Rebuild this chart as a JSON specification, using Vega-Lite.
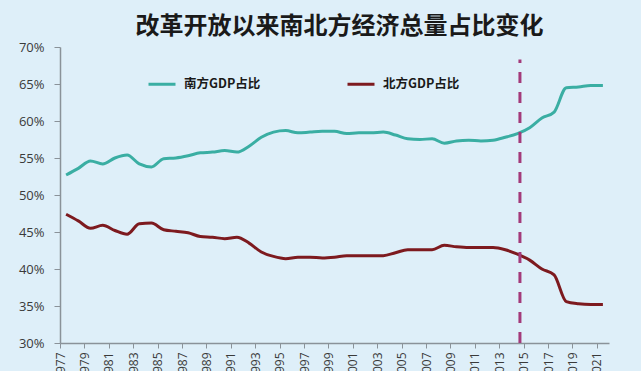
{
  "$schema": "https://vega.github.io/schema/vega-lite/v6.json",
  "width": 549,
  "height": 296,
  "autosize": {"type": "none"},
  "padding": {"left": 60, "top": 47, "right": 32, "bottom": 28},
  "background": "#deeff9",
  "title": {"text": "改革开放以来南北方经济总量占比变化", "anchor": "middle", "frame": "group", "dx": 5, "fontSize": 24, "font": "Noto Sans CJK SC", "fontWeight": "bold", "color": "#1a1a1a", "offset": 2},
  "config": {"view": {"stroke": null}, "font": "Noto Sans CJK SC"},
  "datasets": {
    "gdp": [
      {"year": 1977, "region": "南方GDP占比", "share": 52.7},
      {"year": 1978, "region": "南方GDP占比", "share": 53.6},
      {"year": 1979, "region": "南方GDP占比", "share": 54.6},
      {"year": 1980, "region": "南方GDP占比", "share": 54.2},
      {"year": 1981, "region": "南方GDP占比", "share": 55.0},
      {"year": 1982, "region": "南方GDP占比", "share": 55.4},
      {"year": 1983, "region": "南方GDP占比", "share": 54.2},
      {"year": 1984, "region": "南方GDP占比", "share": 53.8},
      {"year": 1985, "region": "南方GDP占比", "share": 54.9},
      {"year": 1986, "region": "南方GDP占比", "share": 55.0},
      {"year": 1987, "region": "南方GDP占比", "share": 55.3},
      {"year": 1988, "region": "南方GDP占比", "share": 55.7},
      {"year": 1989, "region": "南方GDP占比", "share": 55.8},
      {"year": 1990, "region": "南方GDP占比", "share": 56.0},
      {"year": 1991, "region": "南方GDP占比", "share": 55.8},
      {"year": 1992, "region": "南方GDP占比", "share": 56.6},
      {"year": 1993, "region": "南方GDP占比", "share": 57.8},
      {"year": 1994, "region": "南方GDP占比", "share": 58.5},
      {"year": 1995, "region": "南方GDP占比", "share": 58.7},
      {"year": 1996, "region": "南方GDP占比", "share": 58.4},
      {"year": 1997, "region": "南方GDP占比", "share": 58.5},
      {"year": 1998, "region": "南方GDP占比", "share": 58.6},
      {"year": 1999, "region": "南方GDP占比", "share": 58.6},
      {"year": 2000, "region": "南方GDP占比", "share": 58.3},
      {"year": 2001, "region": "南方GDP占比", "share": 58.4},
      {"year": 2002, "region": "南方GDP占比", "share": 58.4},
      {"year": 2003, "region": "南方GDP占比", "share": 58.5},
      {"year": 2004, "region": "南方GDP占比", "share": 58.1},
      {"year": 2005, "region": "南方GDP占比", "share": 57.6},
      {"year": 2006, "region": "南方GDP占比", "share": 57.5},
      {"year": 2007, "region": "南方GDP占比", "share": 57.6},
      {"year": 2008, "region": "南方GDP占比", "share": 57.0},
      {"year": 2009, "region": "南方GDP占比", "share": 57.3},
      {"year": 2010, "region": "南方GDP占比", "share": 57.4},
      {"year": 2011, "region": "南方GDP占比", "share": 57.3},
      {"year": 2012, "region": "南方GDP占比", "share": 57.4},
      {"year": 2013, "region": "南方GDP占比", "share": 57.8},
      {"year": 2014, "region": "南方GDP占比", "share": 58.3},
      {"year": 2015, "region": "南方GDP占比", "share": 59.1},
      {"year": 2016, "region": "南方GDP占比", "share": 60.4},
      {"year": 2017, "region": "南方GDP占比", "share": 61.2},
      {"year": 2018, "region": "南方GDP占比", "share": 64.5},
      {"year": 2019, "region": "南方GDP占比", "share": 64.6},
      {"year": 2020, "region": "南方GDP占比", "share": 64.8},
      {"year": 2021, "region": "南方GDP占比", "share": 64.8},
      {"year": 1977, "region": "北方GDP占比", "share": 47.4},
      {"year": 1978, "region": "北方GDP占比", "share": 46.5},
      {"year": 1979, "region": "北方GDP占比", "share": 45.5},
      {"year": 1980, "region": "北方GDP占比", "share": 45.9},
      {"year": 1981, "region": "北方GDP占比", "share": 45.2},
      {"year": 1982, "region": "北方GDP占比", "share": 44.7},
      {"year": 1983, "region": "北方GDP占比", "share": 46.1},
      {"year": 1984, "region": "北方GDP占比", "share": 46.2},
      {"year": 1985, "region": "北方GDP占比", "share": 45.3},
      {"year": 1986, "region": "北方GDP占比", "share": 45.1},
      {"year": 1987, "region": "北方GDP占比", "share": 44.9},
      {"year": 1988, "region": "北方GDP占比", "share": 44.4},
      {"year": 1989, "region": "北方GDP占比", "share": 44.3},
      {"year": 1990, "region": "北方GDP占比", "share": 44.1},
      {"year": 1991, "region": "北方GDP占比", "share": 44.3},
      {"year": 1992, "region": "北方GDP占比", "share": 43.5},
      {"year": 1993, "region": "北方GDP占比", "share": 42.3},
      {"year": 1994, "region": "北方GDP占比", "share": 41.7},
      {"year": 1995, "region": "北方GDP占比", "share": 41.4},
      {"year": 1996, "region": "北方GDP占比", "share": 41.6},
      {"year": 1997, "region": "北方GDP占比", "share": 41.6},
      {"year": 1998, "region": "北方GDP占比", "share": 41.5},
      {"year": 1999, "region": "北方GDP占比", "share": 41.6},
      {"year": 2000, "region": "北方GDP占比", "share": 41.8},
      {"year": 2001, "region": "北方GDP占比", "share": 41.8},
      {"year": 2002, "region": "北方GDP占比", "share": 41.8},
      {"year": 2003, "region": "北方GDP占比", "share": 41.8},
      {"year": 2004, "region": "北方GDP占比", "share": 42.2},
      {"year": 2005, "region": "北方GDP占比", "share": 42.6},
      {"year": 2006, "region": "北方GDP占比", "share": 42.6},
      {"year": 2007, "region": "北方GDP占比", "share": 42.6},
      {"year": 2008, "region": "北方GDP占比", "share": 43.2},
      {"year": 2009, "region": "北方GDP占比", "share": 43.0},
      {"year": 2010, "region": "北方GDP占比", "share": 42.9},
      {"year": 2011, "region": "北方GDP占比", "share": 42.9},
      {"year": 2012, "region": "北方GDP占比", "share": 42.9},
      {"year": 2013, "region": "北方GDP占比", "share": 42.6},
      {"year": 2014, "region": "北方GDP占比", "share": 42.0},
      {"year": 2015, "region": "北方GDP占比", "share": 41.2},
      {"year": 2016, "region": "北方GDP占比", "share": 40.0},
      {"year": 2017, "region": "北方GDP占比", "share": 39.2},
      {"year": 2018, "region": "北方GDP占比", "share": 35.6},
      {"year": 2019, "region": "北方GDP占比", "share": 35.3},
      {"year": 2020, "region": "北方GDP占比", "share": 35.2},
      {"year": 2021, "region": "北方GDP占比", "share": 35.2}
    ],
    "marker": [
      {"year": 2014.2, "lo": 30, "hi": 68.3}
    ]
  },
  "layer": [
    {
      "data": {"name": "gdp"},
      "mark": {"type": "line", "interpolate": "monotone", "strokeWidth": 3},
      "encoding": {
        "x": {
          "field": "year", "type": "quantitative",
          "scale": {"domain": [1976.5, 2021.5], "nice": false, "zero": false},
          "axis": {
            "title": null, "grid": false, "tickCount": 60,
            "values": [1976.5, 1978.5, 1980.5, 1982.5, 1984.5, 1986.5, 1988.5, 1990.5, 1992.5, 1994.5, 1996.5, 1998.5, 2000.5, 2002.5, 2004.5, 2006.5, 2008.5, 2010.5, 2012.5, 2014.5, 2016.5, 2018.5, 2020.5],
            "labelExpr": "'' + (datum.value + 0.5)",
            "labelAngle": -90, "labelFlush": false, "labelOverlap": false, "labelDx": 3,
            "labelFontSize": 12, "labelFont": "Open Sans", "labelColor": "#3a3a3a",
            "labelPadding": 4, "tickSize": 5, "tickColor": "#8a9299", "domainColor": "#8a9299", "domainWidth": 1.5
          }
        },
        "y": {
          "field": "share", "type": "quantitative",
          "scale": {"domain": [30, 70], "nice": false, "zero": false},
          "axis": {
            "title": null, "grid": false, "tickCount": 60, "labelOverlap": false,
            "values": [30, 35, 40, 45, 50, 55, 60, 65, 70],
            "labelExpr": "datum.value + '%'",
            "labelFontSize": 13, "labelFont": "Open Sans", "labelColor": "#3a3a3a",
            "labelPadding": 10, "tickSize": 6, "tickColor": "#8a9299", "domainColor": "#8a9299", "domainWidth": 1.5
          }
        },
        "color": {
          "field": "region", "type": "nominal",
          "scale": {"domain": ["南方GDP占比", "北方GDP占比"], "range": ["#3aaea3", "#7d1a1f"]},
          "legend": {
            "orient": "none", "legendX": 87, "legendY": 22, "direction": "horizontal", "title": null,
            "symbolType": "stroke", "symbolSize": 729, "symbolStrokeWidth": 3,
            "labelFontSize": 12.5, "labelFontWeight": "bold", "labelColor": "#1a1a1a", "labelFont": "Noto Sans CJK SC",
            "labelOffset": 7, "columnPadding": 80
          }
        }
      }
    },
    {
      "data": {"name": "marker"},
      "mark": {"type": "rule", "strokeDash": [11, 9], "strokeWidth": 3, "color": "#a33a7a"},
      "encoding": {
        "x": {"field": "year", "type": "quantitative"},
        "y": {"field": "lo", "type": "quantitative"},
        "y2": {"field": "hi"}
      }
    }
  ]
}
